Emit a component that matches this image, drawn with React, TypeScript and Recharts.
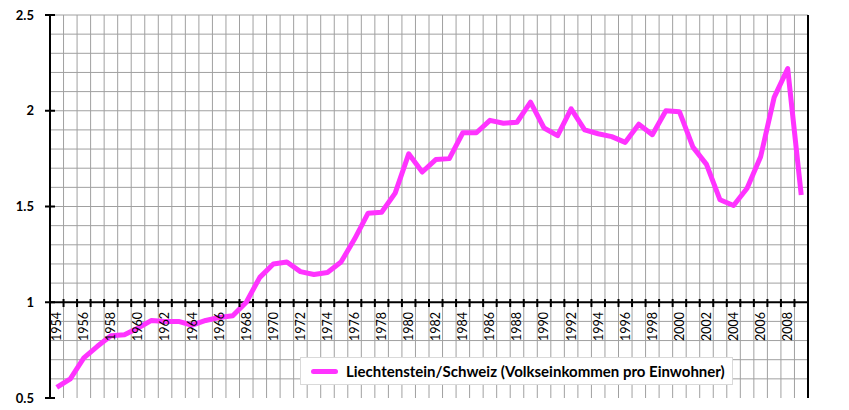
import { LineChart, Line, XAxis, YAxis, CartesianGrid, ReferenceLine, Legend } from 'recharts';

const YEARS = [
  1954, 1955, 1956, 1957, 1958, 1959, 1960, 1961, 1962, 1963,
  1964, 1965, 1966, 1967, 1968, 1969, 1970, 1971, 1972, 1973,
  1974, 1975, 1976, 1977, 1978, 1979, 1980, 1981, 1982, 1983,
  1984, 1985, 1986, 1987, 1988, 1989, 1990, 1991, 1992, 1993,
  1994, 1995, 1996, 1997, 1998, 1999, 2000, 2001, 2002, 2003,
  2004, 2005, 2006, 2007, 2008, 2009,
];

// Liechtenstein/Schweiz ratio
const RATIO = [
  0.555, 0.6, 0.71, 0.77, 0.825, 0.83, 0.865, 0.905, 0.9, 0.9,
  0.88, 0.905, 0.92, 0.93, 1.0, 1.13, 1.2, 1.21, 1.16, 1.145,
  1.155, 1.21, 1.33, 1.465, 1.47, 1.57, 1.775, 1.68, 1.745, 1.75,
  1.885, 1.885, 1.95, 1.935, 1.94, 2.045, 1.91, 1.87, 2.01, 1.9,
  1.88, 1.865, 1.835, 1.93, 1.875, 2.0, 1.995, 1.81, 1.72, 1.535,
  1.505, 1.595, 1.76, 2.07, 2.22, 1.56,
];

const LABEL_YEARS = [
  1954, 1956, 1958, 1960, 1962, 1964, 1966, 1968, 1970, 1972, 1974,
  1976, 1978, 1980, 1982, 1984, 1986, 1988, 1990, 1992, 1994, 1996,
  1998, 2000, 2002, 2004, 2006, 2008,
];
const Y_TICKS = [0.5, 1, 1.5, 2, 2.5];
const Y_GRID = [0.6, 0.7, 0.8, 0.9, 1.1, 1.2, 1.3, 1.4, 1.5, 1.6, 1.7, 1.8, 1.9, 2, 2.1, 2.2, 2.3, 2.4, 2.5];

const SERIES_NAME = 'Liechtenstein/Schweiz (Volkseinkommen pro Einwohner)';
const LINE_COLOR = '#ff33ff';
const GRID_COLOR = '#a0a0a0';
const FONT = 'Lato, "Open Sans", sans-serif';

const data = YEARS.map((year, i) => ({ year, ratio: RATIO[i] }));
// category boundaries for the vertical grid and the little axis ticks
const BOUNDS = [...YEARS.map((y) => y - 0.5), YEARS[YEARS.length - 1] + 0.5];
const X_DOMAIN = [BOUNDS[0], BOUNDS[BOUNDS.length - 1]];

const W = 849;
const H = 410;
const MARGIN = { top: 15, right: 0, bottom: 10, left: 0 };
const X_AXIS_H = 1;
const LEFT_W = 50;
const RIGHT_W = 41;
const Y_MIN = 0.5;
const Y_MAX = 2.5;
const PLOT_H = H - MARGIN.top - MARGIN.bottom - X_AXIS_H;
// the x axis crosses at 1
const AXIS_Y = MARGIN.top + (PLOT_H * (Y_MAX - 1)) / (Y_MAX - Y_MIN);
const LEFT_X = MARGIN.left + LEFT_W;
const RIGHT_X = W - MARGIN.right - RIGHT_W;

const YearTick = (props: any) => {
  const { x, payload } = props;
  return (
    <g transform={`translate(${x},${AXIS_Y + 9}) rotate(-90)`}>
      <text textAnchor="end" dy="0.35em" fontSize={12.5} fontFamily={FONT} fill="#000">
        {payload.value}
      </text>
    </g>
  );
};

const BoundTick = (props: any) => {
  const { x } = props;
  return <line x1={x} x2={x} y1={AXIS_Y - 4} y2={AXIS_Y + 4} stroke="#000" strokeWidth={2} />;
};

const LeftTick = (props: any) => {
  const { y, payload } = props;
  return (
    <g>
      <line x1={LEFT_X - 5} x2={LEFT_X + 5} y1={y} y2={y} stroke="#000" strokeWidth={2} />
      <text x={LEFT_X - 16} y={y} textAnchor="end" dy="0.35em" fontSize={13} fontWeight="bold" fontFamily={FONT} fill="#000">
        {payload.value}
      </text>
    </g>
  );
};

const RightTick = (props: any) => {
  const { y, payload } = props;
  return (
    <g>
      <line x1={RIGHT_X - 5} x2={RIGHT_X + 5} y1={y} y2={y} stroke="#000" strokeWidth={2} />
      <text x={RIGHT_X + 16} y={y} textAnchor="start" dy="0.35em" fontSize={13} fontWeight="bold" fontFamily={FONT} fill="#000">
        {payload.value}
      </text>
    </g>
  );
};

const LegendBox = () => (
  <div
    style={{
      width: 433,
      height: 28,
      boxSizing: 'border-box',
      background: '#fff',
      border: '1px solid #d9d9d9',
      display: 'flex',
      alignItems: 'center',
      paddingLeft: 10,
      fontFamily: FONT,
      fontWeight: 'bold',
      fontSize: 15,
      color: '#000',
      whiteSpace: 'nowrap',
    }}
  >
    <span style={{ display: 'inline-block', width: 27, height: 5, borderRadius: 3, background: LINE_COLOR, marginRight: 8 }} />
    {SERIES_NAME}
  </div>
);

export default function App() {
  return (
    <div style={{ position: 'absolute', left: 0, top: 0, background: '#fff' }}>
      <LineChart width={W} height={H} data={data} margin={MARGIN}>
        <CartesianGrid xAxisId="b" yAxisId="left" horizontal={false} stroke={GRID_COLOR} />
        <XAxis
          xAxisId="x"
          dataKey="year"
          type="number"
          domain={X_DOMAIN}
          ticks={LABEL_YEARS}
          interval={0}
          height={X_AXIS_H}
          axisLine={false}
          tickLine={false}
          tick={<YearTick />}
        />
        <XAxis
          xAxisId="b"
          dataKey="year"
          type="number"
          domain={X_DOMAIN}
          ticks={BOUNDS}
          interval={0}
          height={X_AXIS_H}
          axisLine={false}
          tickLine={false}
          tick={<BoundTick />}
        />
        <YAxis
          yAxisId="left"
          domain={[Y_MIN, Y_MAX]}
          ticks={Y_TICKS}
          interval={0}
          width={LEFT_W}
          axisLine={{ stroke: '#000', strokeWidth: 2 }}
          tickLine={false}
          tick={<LeftTick />}
        />
        <YAxis
          yAxisId="right"
          orientation="right"
          domain={[Y_MIN, Y_MAX]}
          ticks={Y_TICKS}
          interval={0}
          width={RIGHT_W}
          axisLine={{ stroke: '#000', strokeWidth: 2 }}
          tickLine={false}
          tick={<RightTick />}
        />
        {Y_GRID.map((v) => (
          <ReferenceLine key={v} xAxisId="x" yAxisId="left" y={v} stroke={GRID_COLOR} strokeWidth={1} />
        ))}
        <ReferenceLine xAxisId="x" yAxisId="left" y={1} stroke="#000" strokeWidth={2} />
        <Legend
          layout="horizontal"
          verticalAlign="middle"
          align="center"
          content={<LegendBox />}
          wrapperStyle={{ left: 300, top: 357, width: 433 }}
        />
        <Line
          xAxisId="x"
          yAxisId="left"
          dataKey="ratio"
          name={SERIES_NAME}
          type="linear"
          stroke={LINE_COLOR}
          strokeWidth={5}
          strokeLinejoin="round"
          dot={false}
          isAnimationActive={false}
        />
      </LineChart>
    </div>
  );
}
